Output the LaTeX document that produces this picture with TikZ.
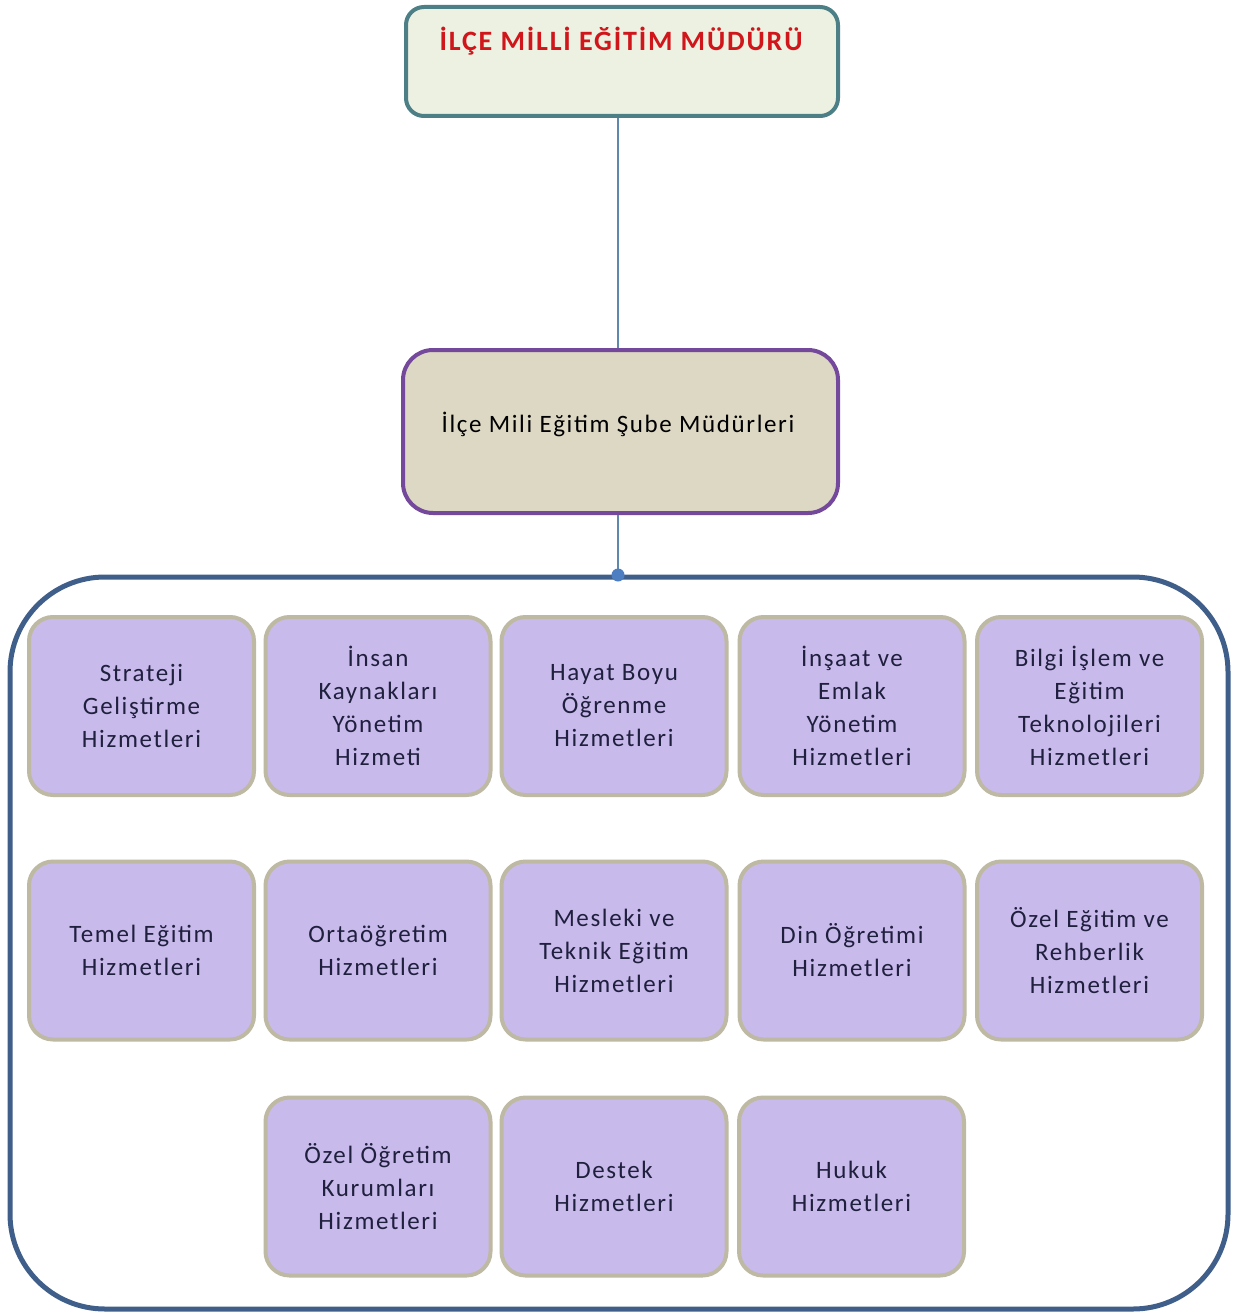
\documentclass[tikz,border=0pt]{standalone}
\usepackage{fontspec}
\setmainfont[LetterSpace=6.5]{Carlito}
\definecolor{topfill}{HTML}{EDF1E2}
\definecolor{topline}{HTML}{4C7F86}
\definecolor{titlered}{HTML}{D0161A}
\definecolor{midfill}{HTML}{DDD8C3}
\definecolor{midline}{HTML}{74489A}
\definecolor{conn}{HTML}{5E88AC}
\definecolor{dotblue}{HTML}{4E7EC2}
\definecolor{frameline}{HTML}{3F5F8A}
\definecolor{boxfill}{HTML}{C9BAEC}
\definecolor{boxline}{HTML}{BDB9A2}
\definecolor{boxtext}{HTML}{1F1F3E}
\begin{document}
\begin{tikzpicture}[x=1pt,y=-1pt,
  unitbox/.style={draw=boxline, line width=4pt, fill=boxfill, rounded corners=24pt,
    minimum width=225pt, minimum height=178pt, inner sep=0pt, align=center,
    text=boxtext, font=\fontsize{25}{33}\selectfont},
  topbox/.style={draw=topline, line width=4pt, fill=topfill, rounded corners=18pt,
    minimum width=432pt, minimum height=109pt, inner sep=0pt},
  midbox/.style={draw=midline, line width=4pt, fill=midfill, rounded corners=30pt,
    minimum width=435pt, minimum height=163pt, inner sep=0pt},
  connector/.style={draw=conn, line width=1.8pt}
]
\useasboundingbox (0,0) rectangle (1235,1313);
% container
\draw[frameline, line width=5pt, fill=white, rounded corners=95pt] (10,577) rectangle (1228,1309);
% top box
\node[topbox] (top) at (622,61.5) {};
\node[text=titlered, font=\fontsize{28}{32}\selectfont\bfseries] (title) at (621,41) {İLÇE MİLLİ EĞİTİM MÜDÜRÜ};
% middle box
\node[midbox] (mid) at (620.5,431.5) {};
\node[font=\fontsize{25}{30}\selectfont, text=black] (midtext) at (618,424) {İlçe Mili Eğitim Şube Müdürleri};
% dot
\coordinate (dot) at (618,575);
\draw[connector] (top.south -| dot) -- (mid.north -| dot);
\draw[connector] (mid.south -| dot) -- (dot);
\fill[dotblue] (dot) circle (6.5pt);
% row 1
\node[unitbox] (s1) at (141.5,706) {Strateji\\Geliştirme\\Hizmetleri};
\node[unitbox] (s2) at (378,706) {İnsan\\Kaynakları\\Yönetim\\Hizmeti};
\node[unitbox] (s3) at (614,706) {Hayat Boyu\\Öğrenme\\Hizmetleri};
\node[unitbox] (s4) at (852,706) {İnşaat ve\\Emlak\\Yönetim\\Hizmetleri};
\node[unitbox] (s5) at (1089.5,706) {Bilgi İşlem ve\\Eğitim\\Teknolojileri\\Hizmetleri};
% row 2
\node[unitbox] (t1) at (141.5,950.5) {Temel Eğitim\\Hizmetleri};
\node[unitbox] (t2) at (378,950.5) {Ortaöğretim\\Hizmetleri};
\node[unitbox] (t3) at (614,950.5) {Mesleki ve\\Teknik Eğitim\\Hizmetleri};
\node[unitbox] (t4) at (852,950.5) {Din Öğretimi\\Hizmetleri};
\node[unitbox] (t5) at (1089.5,950.5) {Özel Eğitim ve\\Rehberlik\\Hizmetleri};
% row 3
\node[unitbox] (u1) at (378,1186.5) {Özel Öğretim\\Kurumları\\Hizmetleri};
\node[unitbox] (u2) at (614,1186.5) {Destek\\Hizmetleri};
\node[unitbox] (u3) at (851.5,1186.5) {Hukuk\\Hizmetleri};
\end{tikzpicture}
\end{document}
